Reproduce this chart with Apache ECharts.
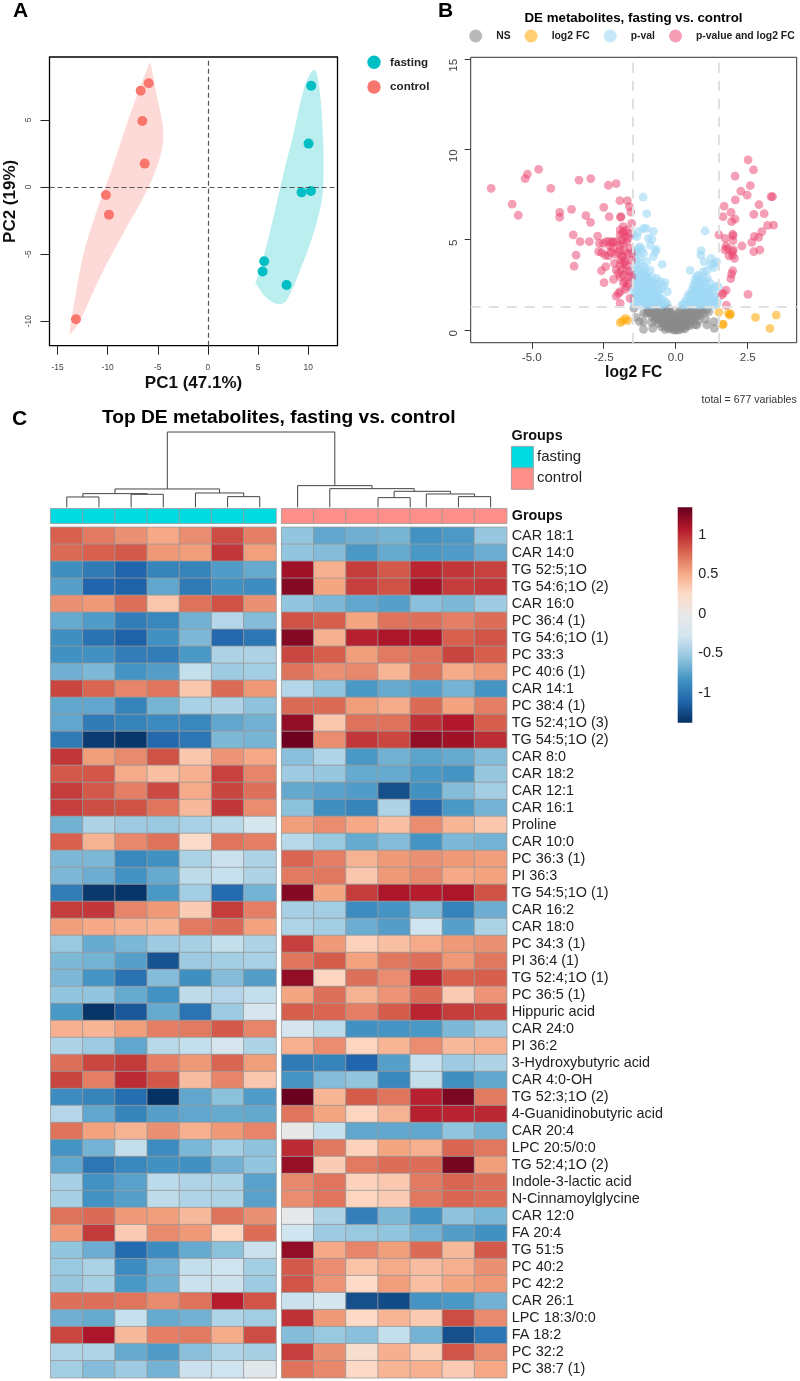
<!DOCTYPE html>
<html>
<head>
<meta charset="utf-8">
<script src="https://cdn.jsdelivr.net/npm/echarts@6/dist/echarts.min.js"></script>
<style>html,body{margin:0;padding:0;background:#fff}#main{width:800px;height:1381px}</style>
</head>
<body>
<div id="main"></div>
<script>
var FONT = '"Liberation Sans", Arial, sans-serif';

// panel A, PCA
var pcaFasting = [[10.3,7.54],[10.03,3.23],[10.27,-0.3],[9.34,-0.4],[5.61,-5.53],[5.45,-6.3],[7.84,-7.3]];
var pcaControl = [[-5.91,7.72],[-6.71,7.17],[-6.54,4.91],[-6.31,1.74],[-10.17,-0.6],[-9.87,-2.06],[-13.16,-9.85]];
var hullFasting = [[10.7,8.71],[11.13,7.22],[11.46,4],[11.53,1.02],[11.36,-0.97],[10.53,-3.45],[9.2,-6.18],[7.87,-8.41],[7.14,-8.73],[6.38,-8.54],[5.55,-8.04],[4.95,-7.37],[4.72,-7.17],[4.55,-7.62],[5.55,-5.19],[6.54,-2.21],[7.54,1.02],[8.54,4],[9.53,7.22],[10.2,8.46]];
var hullControl = [[-5.75,9.26],[-5.08,6.72],[-4.49,4.49],[-4.49,3.25],[-5.08,1.51],[-6.41,-0.72],[-8.07,-2.95],[-10.73,-6.67],[-12.72,-9.9],[-13.55,-10.84],[-13.79,-10.89],[-13.39,-8.91],[-12.39,-4.94],[-11.06,-1.71],[-9.73,1.02],[-8.07,4.74],[-6.74,7.47],[-5.91,9.08]];
var pcaXTicks = [-15,-10,-5,0,5,10];
var pcaYTicks = [-10,-5,0,5];

// panel B, volcano
var volcanoNS = [[-1.45,1.2],[-1.12,0.92],[-1.38,0.7],[-1.26,0.46],[-1.12,0.46],[-0.83,0.41],[-1.12,0.04],[-0.8,0.09],[-0.95,1.01],
  [-0.78,1.27],[-0.54,1.29],[-0.31,1.25],[-0.95,1.11],[-0.83,1.13],[-0.66,1.09],[-0.49,1.14],[-0.31,1.07],[-0.2,1.1],[0.21,1.12],[0.38,1.08],[0.56,1.13],[0.73,1.1],[0.9,1.06],[1.08,1.12],
  [-1.01,0.92],[-0.89,0.95],[-0.72,0.9],[-0.54,0.94],[-0.37,0.89],[-0.2,0.92],[-0.08,0.86],[0.09,0.9],[0.27,0.95],[0.44,0.91],[0.61,0.96],[0.79,0.9],[0.96,0.94],
  [-0.83,0.74],[-0.66,0.71],[-0.49,0.76],[-0.31,0.72],[-0.14,0.68],[0.03,0.62],[0.21,0.75],[0.38,0.7],[0.56,0.73],[0.73,0.77],
  [-0.72,0.55],[-0.54,0.58],[-0.37,0.52],[-0.2,0.56],[-0.02,0.5],[0.15,0.54],[0.32,0.57],[0.5,0.52],
  [-0.6,0.37],[-0.43,0.4],[-0.25,0.34],[-0.08,0.38],[0.09,0.35],[0.27,0.39],[0.44,0.33],[0.67,0.3],
  [-0.49,0.18],[-0.31,0.22],[-0.14,0.16],[0.03,0.2],[0.21,0.17],[0.38,0.21],
  [-0.37,0.03],[-0.2,0.05],[-0.02,0.02],[0.15,0.04],[0.32,0.06],
  [1.04,0.61],[1.33,0.46],[1.08,0.28],[1.34,0.09],[0.73,0.28],
  [-0.92,1.2],[-0.7,1.2],[-0.42,1.22],[-0.25,1.18],[0.1,1.02],[0.3,1.2],[0.47,1.22],[0.65,1.2],[0.82,1.2],[1.0,1.2],[1.15,1.02],[-0.75,0.8],[-0.58,0.82],[-0.42,0.65],[-0.25,0.82],[-0.05,0.75],[0.12,0.72],[0.3,0.82],[0.48,0.85],[0.65,0.62],[0.85,0.78],[-0.63,0.62],[-0.48,0.45],[-0.3,0.45],[-0.15,0.42],[0.05,0.45],[0.2,0.38],[0.38,0.48],[0.58,0.46],[-0.4,0.26],[-0.22,0.25],[-0.05,0.28],[0.12,0.24],[0.3,0.28],[-0.27,0.1],[-0.1,0.1],[0.08,0.12],[0.25,0.1],[-0.05,0.0],[0.08,0.0],[0.8,0.5],[0.5,0.25]];
var volcanoFC = [[-1.93,0.41],[-1.85,0.5],[-1.74,0.65],[-1.67,0.52],[1.5,0.98],[1.83,0.92],[1.91,0.89],[1.87,0.83],[1.65,0.33],[1.63,0.3],[2.77,0.7],[3.49,0.83],[3.27,0.09]];
var volcanoP = [[-1.13,7.36],[-1.01,6.44],[1.02,5.48],[-1.3,5.44],[-1.12,5.63],[-1.03,5.63],[-0.78,5.46],[-1.35,5.17],[-0.95,5.07],[-0.83,5.02],[-1.47,5.26],[-0.68,4.46],[-0.71,4.34],[-0.89,4.7],[-1.24,4.61],[-1.3,4.52],[-1.18,4.43],[-1.35,4.34],[-1.12,4.24],[-1.45,4.34],[-1.24,4.06],[-0.78,4.06],[-1.01,3.78],[-0.47,3.63],[-1.35,3.6],[-1.24,3.69],[-1.12,3.51],[-1.47,3.41],[-1.3,3.32],[-1.06,3.32],[-0.89,3.32],[-1.41,3.14],[-1.18,3.04],[-1.01,3.04],[-0.83,2.95],[-0.66,2.86],[-1.47,2.77],[-1.3,2.77],[-1.12,2.77],[-0.95,2.68],[-0.78,2.68],[-0.54,2.68],[-0.37,2.62],[-1.41,2.49],[-1.24,2.4],[-1.06,2.4],[-0.89,2.4],[-0.72,2.4],[-0.49,2.31],[-1.47,2.21],[-1.3,2.12],[-1.12,2.12],[-0.95,2.07],[-0.78,2.07],[-0.6,2.03],[-0.29,2.12],[-1.41,1.88],[-1.24,1.85],[-1.06,1.85],[-0.89,1.81],[-0.72,1.81],[-0.54,1.75],[-1.47,1.66],[-1.33,1.57],[-1.12,1.57],[-0.95,1.57],[-0.78,1.57],[-0.6,1.57],[-0.43,1.51],[-1.45,1.44],[-1.24,1.38],[-1.01,1.38],[-0.78,1.38],[-0.54,1.38],
  [-1.38,3.9],[-1.2,3.2],[-1.0,2.9],[-1.35,2.6],[-0.9,2.2],[-1.15,1.7],[-0.7,1.95],[-0.65,1.45],[-1.4,1.95],
  [-1.42,3.0],[-1.28,2.95],[-1.1,3.05],[-0.95,2.85],[-1.22,2.6],[-1.05,2.6],[-0.85,2.55],[-0.65,2.55],[-1.38,2.3],[-1.15,2.3],[-0.98,2.25],[-0.8,2.25],[-0.6,2.2],[-0.42,2.45],[-1.3,1.95],[-1.18,2.0],[-1.0,1.95],[-0.85,1.95],[-0.62,1.85],[-0.45,1.7],[-1.38,1.75],[-1.2,1.7],[-1.02,1.7],[-0.88,1.68],[-0.7,1.65],[-0.35,1.55],[-0.3,1.42],[-0.48,1.42],[-1.15,1.45],[-0.9,1.42],
  [0.88,4.39],[0.87,4.15],[1.23,3.97],[0.98,3.78],[1.34,3.69],[1.42,3.78],[1.21,3.6],[1.31,3.45],[0.5,3.3],[0.96,3.23],[1.08,3.28],[0.79,3.04],[0.73,2.95],[0.67,2.8],[0.84,2.77],[1.02,2.68],[1.19,2.58],[0.61,2.49],[0.79,2.49],[0.9,2.4],[1.08,2.31],[1.4,2.44],[1.48,2.4],[0.56,2.21],[0.73,2.21],[0.9,2.12],[1.13,2.07],[1.31,2.12],[0.44,1.94],[0.61,1.88],[0.79,1.88],[0.96,1.85],[1.19,1.85],[1.4,1.85],[0.32,1.57],[0.5,1.66],[0.67,1.57],[0.84,1.57],[1.02,1.57],[1.25,1.57],[1.37,1.57],[0.21,1.38],[0.38,1.38],[0.61,1.38],[0.79,1.38],[1.08,1.38],[1.31,1.38],
  [0.7,2.6],[0.85,2.25],[1.05,1.95],[0.55,1.7],[0.95,1.45],[1.2,1.45],
  [0.4,1.75],[0.52,2.0],[0.68,2.1],[0.85,2.0],[1.0,2.05],[1.15,2.3],[1.28,2.3],[0.65,2.3],[0.88,2.6],[0.95,2.9],[1.1,2.85],[0.6,1.55],[0.75,1.7],[0.92,1.72],[1.12,1.7],[1.3,1.72],[1.45,1.62],[0.28,1.42],[0.45,1.48],[0.7,1.44],[0.9,1.42],[1.15,1.4],[1.42,1.42]];
var volcanoBoth = [[-6.41,7.84],[-5.68,6.97],[-5.47,6.35],[-5.23,8.38],[-5.15,8.63],[-4.76,8.89],[-4.34,7.84],[-4.03,6.51],[-4.03,6.24],[-3.62,6.68],[-3.56,5.26],[-3.32,4.89],[-3.46,4.15],[-3.53,3.54],[-3.36,8.3],[-2.95,8.38],[-3.12,6.33],[-2.96,5.96],[-3,4.89],[-2.71,5.2],[-2.65,4.8],[-2.68,4.34],[-2.5,6.79],[-2.31,6.27],[-2.34,8.01],[-2.07,8.1],[-1.94,7.16],[-1.68,7.16],[-1.61,6.83],[-1.56,6.53],[-1.92,6.24],[-1.53,5.9],[-2.51,4.8],[-2.42,4.89],[-2.22,4.85],[-2.05,4.89],[-2.57,4.28],[-2.45,4.15],[-2.34,4.1],[-2.19,4.52],[-1.93,5.54],[-1.82,5.72],[-1.7,5.54],[-1.93,5.26],[-1.76,5.17],[-1.87,4.98],[-1.7,4.89],[-1.59,4.52],[-1.93,4.43],[-1.82,4.06],[-1.91,3.87],[-1.76,3.78],[-1.93,3.6],[-1.7,3.6],[-1.53,3.87],[-2.13,3.69],[-2.43,3.51],[-2.58,3.28],[-2.07,3.32],[-1.99,3.14],[-1.82,3.04],[-1.64,2.95],[-1.53,2.95],[-2.16,2.8],[-2.49,2.62],[-1.93,2.95],[-1.76,2.68],[-1.7,2.4],[-1.76,2.25],[-1.93,2.12],[-2.07,1.88],[-1.99,2.03],[-1.59,1.75],[-1.93,1.48],[-1.53,4.24],[-1.82,4.8],[-1.59,5.35],[-2.16,4.89],[-2.28,4.61],[-1.84,5.35],[-1.87,4.06],[-1.79,3.69],[-1.9,6.27],
  [-1.8,5.45],[-1.65,5.1],[-1.95,4.7],[-1.78,4.4],[-1.68,4.2],[-1.88,3.35],[-1.72,3.3],[-1.6,3.25],[-1.82,2.6],[-1.65,2.55],[-2.0,4.3],[-2.1,4.2],[-2.25,4.3],[-2.3,4.9],
  [1.5,5.26],[1.68,6.86],[1.64,6.27],[2.06,8.52],[2.51,9.41],[2.7,8.86],[2.59,7.99],[2.26,7.68],[2.48,7.47],[2.07,7.2],[1.92,6.51],[2.06,6.14],[1.94,6],[2.71,6.4],[2.89,6.94],[3.07,6.44],[3.36,7.38],[3.31,7.38],[3.19,5.79],[3.4,5.81],[2.99,5.44],[2.73,5.18],[2.88,5.13],[2.64,4.85],[2.3,4.65],[2.92,4.43],[2.71,4.34],[1.98,5.3],[1.99,5.22],[1.99,4.94],[1.72,5.07],[1.74,4.65],[1.71,4.43],[1.8,4.52],[2,4.43],[1.97,4.34],[1.85,4.1],[2.04,3.97],[1.97,4.15],[1.98,3.28],[1.94,3.1],[1.91,2.84],[1.75,2.21],[1.65,2.03],[1.6,1.94],[2.51,1.97],[1.76,1.38]];
var volcanoXTicks = [-5,-2.5,0,2.5];
var volcanoYTicks = [0,5,10,15];

// panel C, heatmap rows top to bottom
var metabolites = ['CAR 18:1','CAR 14:0','TG 52:5;1O','TG 54:6;1O (2)','CAR 16:0','PC 36:4 (1)','TG 54:6;1O (1)','PC 33:3','PC 40:6 (1)','CAR 14:1','PC 38:4 (1)','TG 52:4;1O (3)','TG 54:5;1O (2)','CAR 8:0','CAR 18:2','CAR 12:1','CAR 16:1','Proline','CAR 10:0','PC 36:3 (1)','PI 36:3','TG 54:5;1O (1)','CAR 16:2','CAR 18:0','PC 34:3 (1)','PI 36:4 (1)','TG 52:4;1O (1)','PC 36:5 (1)','Hippuric acid','CAR 24:0','PI 36:2','3-Hydroxybutyric acid','CAR 4:0-OH','TG 52:3;1O (2)','4-Guanidinobutyric acid','CAR 20:4','LPC 20:5/0:0','TG 52:4;1O (2)','Indole-3-lactic acid','N-Cinnamoylglycine','CAR 12:0','FA 20:4','TG 51:5','PC 40:2','PC 42:2','CAR 26:1','LPC 18:3/0:0','FA 18:2','PC 32:2','PC 38:7 (1)'];
var fastingSamples = ['F1','F2','F3','F4','F5','F6','F7'];
var controlSamples = ['C1','C2','C3','C4','C5','C6','C7'];
var fastingValues = [
[.82,.72,.63,.53,.65,.9,.7],[.78,.82,.85,.6,.58,.98,.57],[-.85,-.98,-1.1,-.92,-.92,-.78,-.7],[-.76,-1.1,-1.12,-.72,-.98,-.84,-.86],[.63,.6,.76,.38,.75,.88,.63],
[-.7,-.78,-.96,-.9,-.66,-.4,-.6],[-.85,-1.03,-1.12,-.84,-.62,-1.08,-1],[-.84,-.84,-.96,-.96,-.8,-.43,-.43],[-.67,-.62,-.82,-.77,-.33,-.5,-.47],[.93,.8,.68,.74,.38,.78,.6],
[-.72,-.72,-.92,-.64,-.45,-.43,-.56],[-.72,-.97,-.92,-.88,-.9,-.72,-.66],[-.98,-1.32,-1.34,-1.08,-1,-.62,-.64],[.98,.58,.66,.88,.38,.62,.53],[.85,.86,.52,.42,.49,.94,.68],
[.96,.85,.7,.91,.52,.93,.76],[.95,.9,.88,.74,.45,.98,.65],[-.66,-.43,-.5,-.52,-.45,-.38,-.22],[.82,.48,.67,.75,.25,.74,.7],[-.62,-.62,-.9,-.84,-.44,-.3,-.43],
[-.62,-.68,-.83,-.7,-.36,-.32,-.43],[-.96,-1.33,-1.35,-.8,-.47,-1.07,-.65],[.96,.98,.68,.6,.35,.96,.7],[.58,.53,.49,.47,.72,.78,.56],[-.52,-.7,-.63,-.5,-.46,-.33,-.43],
[-.62,-.65,-.76,-1.2,-.5,-.47,-.45],[-.62,-.82,-1.03,-.6,-.85,-.6,-.77],[-.55,-.55,-.7,-.83,-.35,-.4,-.33],[-.8,-1.35,-1.17,-.7,-1.02,-.5,-.2],[.5,.47,.58,.7,.72,.85,.68],
[-.43,-.5,-.72,-.38,-.33,-.2,-.43],[.76,.92,.97,.7,.6,.8,.58],[.93,.7,1.03,.86,.43,.68,.38],[-.87,-.92,-1.05,-1.37,-.72,-.57,-.78],[-.4,-.72,-.92,-.76,-.72,-.7,-.71],
[.75,.56,.48,.63,.5,.6,.68],[-.82,-.65,-.33,-.87,-.63,-.47,-.56],[-.72,-1,-.9,-.84,-.84,-.66,-.55],[-.46,-.83,-.75,-.37,-.42,-.44,-.75],[-.46,-.83,-.76,-.36,-.42,-.43,-.75],
[.75,.78,.6,.58,.45,.75,.63],[.6,.97,.36,.66,.6,.3,.77],[-.55,-.68,-1.07,-.87,-.7,-.57,-.3],[-.52,-.44,-.87,-.65,-.33,-.28,-.47],[-.53,-.46,-.8,-.66,-.3,-.3,-.5],
[.76,.76,.74,.66,.75,1.08,.87],[-.67,-.7,-.32,-.7,-.66,-.42,-.48],[.92,1.12,.45,.7,.72,.52,.9],[-.42,-.42,-.7,-.78,-.58,-.42,-.46],[-.47,-.6,-.5,-.65,-.3,-.28,-.1]];
var controlValues = [
[-.55,-.72,-.67,-.64,-.83,-.79,-.53],[-.55,-.6,-.8,-.7,-.8,-.78,-.68],[1.17,.5,.96,.85,1.05,.98,.94],[1.27,.55,.95,.88,1.15,.96,.98],[-.55,-.62,-.72,-.76,-.58,-.62,-.5],
[.88,.83,.55,.75,.76,.7,.77],[1.27,.5,1.07,1.12,1.13,.82,.87],[.92,.83,.58,.72,.75,.93,.83],[.75,.63,.67,.47,.75,.52,.6],[-.4,-.55,-.8,-.7,-.76,-.65,-.82],
[.78,.78,.58,.52,.78,.56,.7],[1.22,.38,.75,.75,1,1.1,.83],[1.35,.65,.98,.92,1.22,1.17,1.02],[-.58,-.42,-.8,-.66,-.74,-.7,-.6],[-.5,-.53,-.7,-.7,-.8,-.82,-.53],
[-.71,-.75,-.78,-1.22,-.84,-.6,-.48],[-.57,-.85,-.92,-.43,-1.08,-.8,-.65],[.58,.65,.53,.42,.65,.47,.38],[-.38,-.52,-.7,-.6,-.82,-.62,-.65],[.8,.7,.48,.6,.63,.6,.58],
[.72,.73,.38,.6,.67,.53,.56],[1.26,.55,.96,1.12,1.08,1.12,.88],[-.46,-.48,-.87,-.82,-.6,-.93,-.68],[-.42,-.48,-.68,-.77,-.27,-.76,-.44],[.95,.6,.32,.42,.52,.6,.63],
[.74,.84,.56,.73,.76,.6,.73],[1.22,.3,.76,.65,1.07,.82,.83],[.55,.76,.48,.62,.78,.36,.62],[.83,.8,.7,.84,1.05,.96,.92],[-.2,-.37,-.84,-.82,-.8,-.62,-.5],
[.5,.65,.3,.47,.65,.45,.5],[-.98,-.92,-1.1,-.76,-.32,-.5,-.43],[-.82,-.6,-.55,-.9,-.33,-.85,-.72],[1.37,.47,.84,.74,1.07,1.3,.72],[.74,.55,.3,.48,1.07,1.06,1.04],
[0,-.32,-.72,-.72,-.72,-.55,-.65],[1.03,.73,.32,.55,.5,.8,.73],[1.2,.35,.72,.77,.77,1.32,.58],[.67,.74,.32,.37,.72,.8,.76],[.65,.74,.3,.36,.73,.8,.77],
[-.02,-.43,-.95,-.62,-.83,-.56,-.63],[-.27,-.5,-.52,-.55,-.65,-.77,-.84],[1.22,.53,.68,.58,.78,.45,.85],[.85,.65,.4,.52,.43,.5,.63],[.87,.62,.27,.58,.42,.55,.6],
[-.3,-.22,-1.22,-1.24,-.82,-.8,-.66],[1,.6,.28,.47,.36,.9,.66],[-.6,-.52,-.58,-.33,-.65,-1.22,-1],[.95,.63,.2,.5,.33,.87,.65],[.75,.67,.28,.47,.5,.36,.53]];

// dendrogram merges: [left x, right x, left height, right height, join height]
var dendroMerges = [
  [0.5,1.5,0,0,31],[2.5,3.5,0,0,39],[1,3,31,39,41],[5.5,6.5,0,0,32],[4.5,6,0,32,43],[2,5.25,41,43,55],
  [10.177,11.177,0,0,29],[12.677,13.677,0,0,32],[11.677,13.177,0,32,40],[10.677,12.427,29,40,48],[8.677,11.302,0,48,56],[7.677,9.99,0,56,65],
  [3.625,8.833,55,65,226]];

var colorbarTicks = [-1,-0.5,0,0.5,1];
var rdbu = ['#053061','#2166ac','#4393c3','#92c5de','#d1e5f0','#e8e8e8','#fddbc7','#f4a582','#d6604d','#b2182b','#67001f'];

function heatData(rows){
  var out = [];
  rows.forEach(function(row, r){
    row.forEach(function(v, c){ out.push([c, r, v]); });
  });
  return out;
}
function hullSeries(name, hull, color){
  return {
    name: name, type: 'custom', xAxisIndex: 0, yAxisIndex: 0, silent: true, z: 1,
    data: hull, encode: {x: 0, y: 1},
    renderItem: function(params, api){
      if (params.dataIndex !== 0) return;
      return {
        type: 'polygon',
        shape: {points: hull.map(function(p){ return api.coord(p); }), smooth: 0.35},
        style: {fill: color, opacity: 0.27}
      };
    }
  };
}
function volcanoSeries(name, data, color, opacity){
  return {
    name: name, type: 'scatter', xAxisIndex: 1, yAxisIndex: 1, data: data, silent: true,
    symbolSize: 8.8, itemStyle: {color: color, opacity: opacity}
  };
}
function hiddenCat(cats, grid, extra){
  return Object.assign({type: 'category', gridIndex: grid, data: cats, axisLine: {show: false}, axisTick: {show: false}, axisLabel: {show: false}, splitLine: {show: false}}, extra || {});
}
function panelTitle(text, left, top, size, extra){
  return Object.assign({text: text, left: left, top: top, padding: 0, textStyle: {fontSize: size, fontWeight: 'bold', color: '#000', fontFamily: FONT}}, extra || {});
}

var option = {
  animation: false,
  backgroundColor: '#fff',
  textStyle: {fontFamily: FONT},
  title: [
    panelTitle('A', 13, 1, 21),
    panelTitle('B', 438, 1, 21),
    panelTitle('C', 12, 409, 21),
    panelTitle('DE metabolites, fasting vs. control', 633.5, 12, 13.3, {textAlign: 'center'}),
    panelTitle('Top DE metabolites, fasting vs. control', 278.7, 408, 19.2, {textAlign: 'center'}),
    {text: 'total = 677 variables', right: 3.3, top: 394.5, padding: 0, textStyle: {fontSize: 10.6, fontWeight: 'normal', color: '#333', fontFamily: FONT}}
  ],
  legend: [
    {data: ['fasting','control'], orient: 'vertical', left: 367.3, top: 55.6, padding: 0, icon: 'circle', itemWidth: 13.4, itemHeight: 13.4, itemGap: 11.3, selectedMode: false,
      textStyle: {fontSize: 11.6, fontWeight: 'bold', color: '#222', padding: [0,0,0,4.4], fontFamily: FONT}},
    {data: ['NS','log2 FC','p-val','p-value and log2 FC'], left: 469.2, top: 29.5, width: 420, padding: 0, icon: 'circle', itemWidth: 13, itemHeight: 13, itemGap: 14, selectedMode: false,
      textStyle: {fontSize: 10.4, fontWeight: 'bold', color: '#222', padding: [0,0,0,9], fontFamily: FONT}}
  ],
  grid: [
    {left: 49.5, top: 57, width: 288, height: 288.7, show: true, borderColor: '#000', borderWidth: 1.3, backgroundColor: '#fff'},
    {left: 470.7, top: 57.3, width: 326, height: 285.4, show: true, borderColor: '#333', borderWidth: 1, backgroundColor: '#fff'},
    {left: 50.7, top: 432, width: 456, height: 75.3},
    {left: 50.7, top: 508.7, width: 225.3, height: 14.6},
    {left: 281.7, top: 508.7, width: 225, height: 14.6},
    {left: 50.7, top: 527.3, width: 225.3, height: 850.4},
    {left: 281.7, top: 527.3, width: 225, height: 850.4},
    {left: 677.7, top: 507.3, width: 14.6, height: 215.4}
  ],
  xAxis: [
    {type: 'value', gridIndex: 0, min: -15.8, max: 12.92, splitLine: {show: false},
      name: 'PC1 (47.1%)', nameLocation: 'middle', nameGap: 29, nameTextStyle: {fontSize: 17, fontWeight: 'bold', color: '#111'},
      axisLine: {show: false, onZero: false}, axisTick: {show: true, length: 9, customValues: pcaXTicks, lineStyle: {color: '#222'}},
      axisLabel: {customValues: pcaXTicks, fontSize: 8.4, color: '#444', margin: 18}},
    {type: 'value', gridIndex: 1, min: -7.12, max: 4.2, splitLine: {show: false},
      name: 'log2 FC', nameLocation: 'middle', nameGap: 22, nameTextStyle: {fontSize: 15.6, fontWeight: 'bold', color: '#111'},
      axisLine: {show: false, onZero: false}, axisTick: {show: true, length: 6, customValues: volcanoXTicks, lineStyle: {color: '#333'}},
      axisLabel: {customValues: volcanoXTicks, fontSize: 11.6, color: '#444', margin: 9.5, formatter: function(v){ return v.toFixed(1); }}},
    {type: 'value', gridIndex: 2, min: 0, max: 14.177, show: false},
    hiddenCat(fastingSamples, 3),
    hiddenCat(controlSamples, 4),
    hiddenCat(fastingSamples, 5),
    hiddenCat(controlSamples, 6),
    {type: 'value', gridIndex: 7, min: 0, max: 1, show: false}
  ],
  yAxis: [
    {type: 'value', gridIndex: 0, min: -11.82, max: 9.68, splitLine: {show: false},
      name: 'PC2 (19%)', nameLocation: 'middle', nameGap: 31, nameTextStyle: {fontSize: 17, fontWeight: 'bold', color: '#111'},
      axisLine: {show: false, onZero: false}, axisTick: {show: true, length: 9, customValues: pcaYTicks, lineStyle: {color: '#222'}},
      axisLabel: {customValues: pcaYTicks, fontSize: 8.4, color: '#444', rotate: 90, margin: 17}},
    {type: 'value', gridIndex: 1, min: -0.7, max: 15.09, splitLine: {show: false},
      axisLine: {show: false, onZero: false}, axisTick: {show: true, length: 6, customValues: volcanoYTicks, lineStyle: {color: '#333'}},
      axisLabel: {customValues: volcanoYTicks, fontSize: 11.6, color: '#444', rotate: 90, margin: 11, align: 'right'}},
    {type: 'value', gridIndex: 2, min: 0, max: 226, show: false},
    hiddenCat(['Groups'], 3),
    hiddenCat(['Groups'], 4, {position: 'right', axisLabel: {show: true, fontSize: 14.4, fontWeight: 'bold', color: '#111', margin: 5}}),
    hiddenCat(metabolites, 5, {inverse: true}),
    hiddenCat(metabolites, 6, {inverse: true, position: 'right', axisLabel: {show: true, interval: 0, fontSize: 14.4, color: '#222', margin: 5}}),
    {type: 'value', gridIndex: 7, min: -1.376, max: 1.35, position: 'right', splitLine: {show: false},
      axisLine: {show: false, onZero: false}, axisTick: {show: false},
      axisLabel: {customValues: colorbarTicks, fontSize: 14.4, color: '#222', margin: 6}}
  ],
  visualMap: [
    {type: 'continuous', show: false, seriesIndex: [11,12], min: -1.376, max: 1.376, inRange: {color: rdbu}},
    {type: 'piecewise', show: false, seriesIndex: [9,10], pieces: [{value: 0, color: '#00dbe2'},{value: 1, color: '#ff8f88'}]}
  ],
  series: [
    hullSeries('fasting hull', hullFasting, '#00BFC4'),
    hullSeries('control hull', hullControl, '#F8766D'),
    {name: 'fasting', type: 'scatter', xAxisIndex: 0, yAxisIndex: 0, data: pcaFasting, symbolSize: 10, silent: true, z: 3, itemStyle: {color: '#00BFC4', opacity: 1},
      markLine: {silent: true, symbol: 'none', label: {show: false}, lineStyle: {color: '#555', type: [5,3], width: 1.2}, data: [{xAxis: 0},{yAxis: 0}]}},
    {name: 'control', type: 'scatter', xAxisIndex: 0, yAxisIndex: 0, data: pcaControl, symbolSize: 10, silent: true, z: 3, itemStyle: {color: '#F8766D', opacity: 1}},
    Object.assign(volcanoSeries('NS', volcanoNS, '#8a8a8a', 0.6), {
      markLine: {silent: true, symbol: 'none', z: 5, label: {show: false}, lineStyle: {color: '#e0e0e0', type: [10,8], width: 2}, data: [{xAxis: -1.5},{xAxis: 1.5},{yAxis: 1.31}]}}),
    volcanoSeries('log2 FC', volcanoFC, '#ffa500', 0.55),
    volcanoSeries('p-val', volcanoP, '#9fd8f5', 0.6),
    volcanoSeries('p-value and log2 FC', volcanoBoth, '#ea3f6b', 0.5),
    {name: 'dendrogram', type: 'custom', xAxisIndex: 2, yAxisIndex: 2, silent: true, data: dendroMerges, encode: {x: [0,1], y: [2,3,4]},
      renderItem: function(params, api){
        var lo = api.value(0), hi = api.value(1);
        return {
          type: 'polyline',
          shape: {points: [api.coord([lo, api.value(2)]), api.coord([lo, api.value(4)]), api.coord([hi, api.value(4)]), api.coord([hi, api.value(3)])]},
          style: {fill: null, stroke: '#444', lineWidth: 1}
        };
      }},
    {name: 'fasting group', type: 'heatmap', xAxisIndex: 3, yAxisIndex: 3, silent: true, data: fastingSamples.map(function(s, i){ return [i, 0, 0]; }), itemStyle: {borderColor: '#999', borderWidth: 0.8}},
    {name: 'control group', type: 'heatmap', xAxisIndex: 4, yAxisIndex: 4, silent: true, data: controlSamples.map(function(s, i){ return [i, 0, 1]; }), itemStyle: {borderColor: '#999', borderWidth: 0.8}},
    {name: 'fasting heat', type: 'heatmap', xAxisIndex: 5, yAxisIndex: 5, silent: true, progressive: 0, data: heatData(fastingValues), itemStyle: {borderColor: '#999', borderWidth: 0.8}},
    {name: 'control heat', type: 'heatmap', xAxisIndex: 6, yAxisIndex: 6, silent: true, progressive: 0, data: heatData(controlValues), itemStyle: {borderColor: '#999', borderWidth: 0.8}},
    {name: 'colorbar', type: 'custom', xAxisIndex: 7, yAxisIndex: 7, silent: true, data: [[0,-1.376,1,1.35]], encode: {x: [0,2], y: [1,3]},
      renderItem: function(params, api){
        var a = api.coord([api.value(0), api.value(3)]), b = api.coord([api.value(2), api.value(1)]);
        return {
          type: 'rect',
          shape: {x: a[0], y: a[1], width: b[0] - a[0], height: b[1] - a[1]},
          style: {fill: new echarts.graphic.LinearGradient(0, 1, 0, 0, rdbu.map(function(c, i){ return {offset: i / (rdbu.length - 1), color: c}; }))}
        };
      }}
  ],
  graphic: [
    {type: 'text', left: 511.5, top: 429, style: {text: 'Groups', font: 'bold 14.4px ' + FONT, fill: '#111'}},
    {type: 'rect', left: 511, top: 446, shape: {width: 22, height: 21.5}, style: {fill: '#00dbe2', stroke: '#999', lineWidth: 0.8}},
    {type: 'rect', left: 511, top: 467.5, shape: {width: 22, height: 21.5}, style: {fill: '#ff8f88', stroke: '#999', lineWidth: 0.8}},
    {type: 'text', left: 537, top: 449.5, style: {text: 'fasting', font: '15px ' + FONT, fill: '#222'}},
    {type: 'text', left: 537, top: 470.5, style: {text: 'control', font: '15px ' + FONT, fill: '#222'}}
  ]
};

var chart = echarts.init(document.getElementById('main'));
chart.setOption(option);
</script>
</body>
</html>
